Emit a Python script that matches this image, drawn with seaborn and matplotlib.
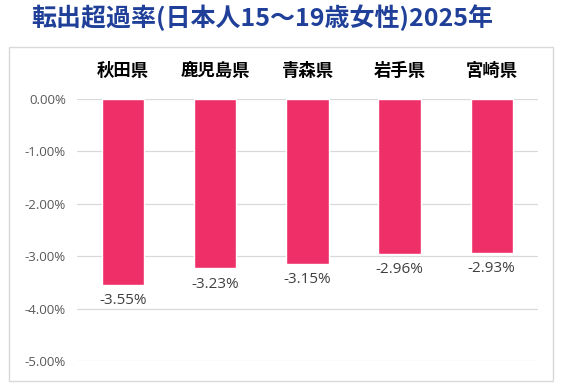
import pandas as pd
import matplotlib.pyplot as plt
import seaborn as sns
from matplotlib.patches import Rectangle
from matplotlib.ticker import FuncFormatter

# === Data ===
prefectures = ["秋田県", "鹿児島県", "青森県", "岩手県", "宮崎県"]
rates = [-3.55, -3.23, -3.15, -2.96, -2.93]
title = "転出超過率(日本人15～19歳女性)2025年"

df = pd.DataFrame({"pref": prefectures, "rate": rates})

sns.set_theme(style="white")
plt.rcParams["font.family"] = ["Noto Sans CJK JP", "DejaVu Sans"]

fig = plt.figure(figsize=(5.62, 3.83), dpi=100)
ax = fig.add_axes([0.137, 0.0574, 0.820, 0.6841])

sns.barplot(data=df, x="pref", y="rate", color="#EF3068", width=0.46,
            saturation=1, ax=ax)

ax.set_ylim(-5, 0)
ax.set_yticks([0, -1, -2, -3, -4, -5])
ax.yaxis.set_major_formatter(FuncFormatter(lambda v, _: f"{v:.2f}%"))
ax.grid(axis="y", color="#D9D9D9", lw=0.9)
ax.set_axisbelow(True)
for s in ax.spines.values():
    s.set_visible(False)

ax.xaxis.tick_top()
ax.tick_params(axis="x", length=0, pad=14, labelsize=12.5, labelcolor="black")
for lbl in ax.get_xticklabels():
    lbl.set_fontweight("bold")
ax.tick_params(axis="y", length=0, pad=8, labelsize=9.5, labelcolor="#595959")
for lbl in ax.get_yticklabels():
    lbl.set_family(["Open Sans", "DejaVu Sans"])
ax.set_xlabel("")
ax.set_ylabel("")

# value labels under each bar
for i, v in enumerate(rates):
    ax.annotate(f"{v:.2f}%", (i, v), xytext=(0, -6), textcoords="offset points",
                ha="center", va="top", fontsize=11, color="#404040",
                family=["Open Sans", "DejaVu Sans"])

# outer frame
fig.patches.append(Rectangle((9 / 562, 2 / 383), 544 / 562, 334 / 383,
                             transform=fig.transFigure, fill=False,
                             edgecolor="#D9D9D9", lw=1))

fig.text(0.466, 0.953, title, ha="center", va="center", fontsize=18,
         fontweight="bold", color="#1F3F99")

fig.savefig("out.png", dpi=100)
